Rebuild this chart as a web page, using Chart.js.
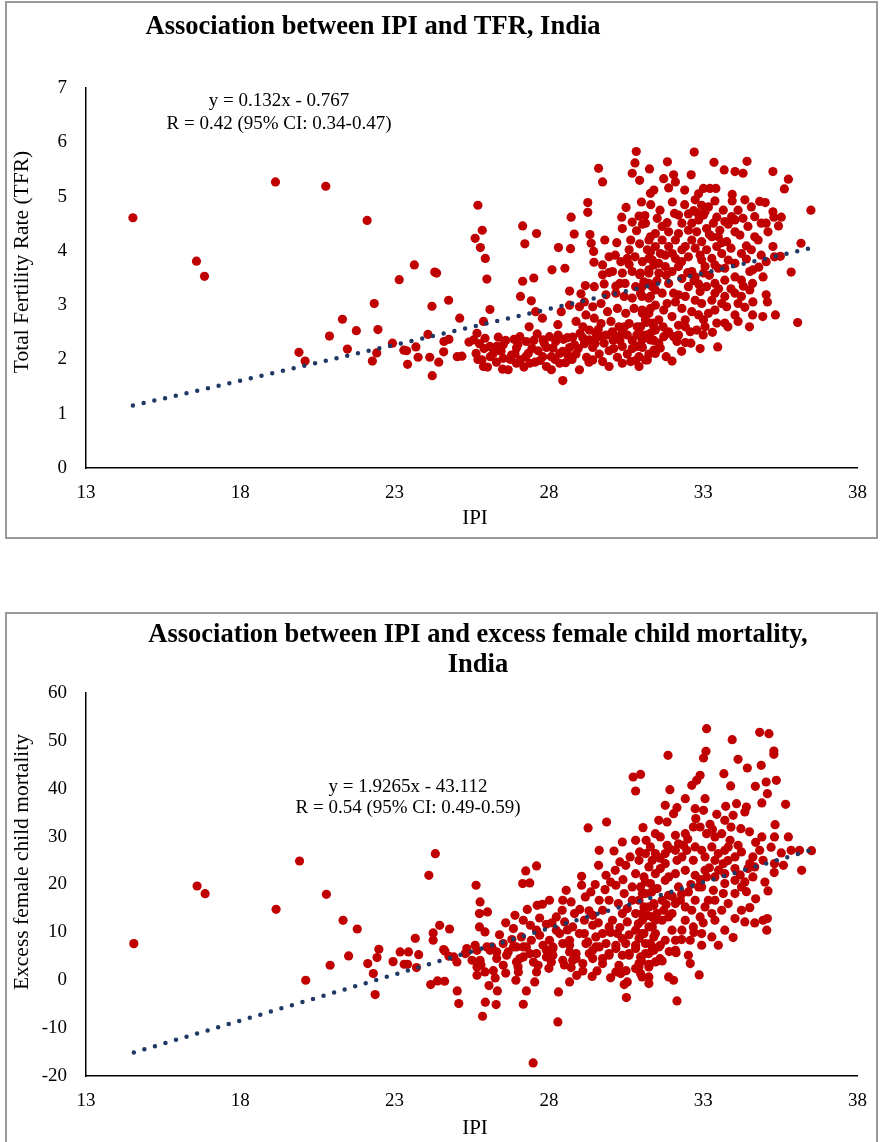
<!DOCTYPE html>
<html>
<head>
<meta charset="utf-8">
<title>IPI associations, India</title>
<script src="https://cdn.jsdelivr.net/npm/chart.js@4.4.1/dist/chart.umd.min.js"></script>
<style>
  body { margin: 0; background: #fff; width: 881px; height: 1142px; position: relative; overflow: hidden; }
  .frame { position: absolute; left: 5px; width: 873px; border: 2px solid #9a9a9a; box-sizing: border-box; }
  .holder { position: absolute; left: 0; width: 881px; }
</style>
</head>
<body>
<div class="frame" style="top:1px;height:538px"></div>
<div class="frame" style="top:612px;height:540px"></div>
<div class="holder" style="top:0;height:540px"><canvas id="chart-tfr"></canvas></div>
<div class="holder" style="top:605px;height:537px"><canvas id="chart-efcm"></canvas></div>
<script>
// Axis ticks
const ipiTicks = [13, 18, 23, 28, 33, 38];
const tfrTicks = [0, 1, 2, 3, 4, 5, 6, 7];
const efcmTicks = [-20, -10, 0, 10, 20, 30, 40, 50, 60];

// Fitted lines shown on the charts
const tfrSlope = 0.132, tfrIntercept = -0.767;
const efcmSlope = 1.9265, efcmIntercept = -43.112;

// Districts: IPI vs total fertility rate
const tfrIpi = [
  14.52,16.58,16.84,19.14,20.77,22.11,23.64,23.15,24.30,24.36,
  22.34,24.21,24.75,21.31,21.76,22.46,20.89,19.90,20.10,21.47,
  22.42,22.28,22.93,23.30,23.39,23.69,23.76,23.42,24.14,24.43,
  24.22,24.08,24.60,24.76,24.59,25.03,30.83,30.79,30.70,30.94,
  31.26,29.61,29.74,31.29,29.26,29.26,25.70,25.84,25.61,25.78,
  25.94,25.99,27.15,27.60,27.22,28.72,28.82,28.70,28.31,28.10,
  28.52,29.33,29.37,29.45,29.46,29.81,30.36,30.38,30.70,30.92,
  31.11,31.03,30.84,30.65,30.60,30.94,31.24,31.29,27.15,27.51,
  27.08,27.43,28.67,29.18,29.47,29.04,26.09,25.11,25.88,27.57,
  27.79,28.40,28.29,27.36,28.67,25.41,28.45,29.74,29.95,30.15,
  30.33,30.54,30.79,31.03,31.24,31.40,30.06,30.38,30.70,30.94,
  31.24,29.74,29.79,30.17,30.47,30.81,31.08,31.35,29.85,30.17,
  30.44,30.70,30.97,31.24,29.42,29.69,29.90,30.22,30.49,30.76,
  31.03,31.29,29.20,29.47,29.69,30.01,30.27,30.60,30.86,31.15,
  31.40,28.88,29.10,29.31,29.52,28.99,29.15,25.56,25.75,25.93,
  25.64,25.83,26.01,26.20,26.36,26.31,26.52,26.50,26.87,26.95,
  27.08,27.19,27.33,27.51,27.62,27.65,27.72,27.92,28.02,28.08,
  28.22,28.35,28.47,28.54,28.67,28.77,28.88,29.01,29.15,29.22,
  29.42,29.55,29.63,29.74,29.95,30.08,30.22,30.38,30.54,30.70,
  30.81,30.92,31.03,31.24,31.40,25.18,25.88,26.68,26.95,27.38,
  27.92,28.08,28.35,28.99,29.42,29.95,30.65,27.06,27.27,27.81,
  28.13,28.61,28.83,29.31,29.79,30.22,30.54,31.13,26.09,25.67,
  26.52,26.79,30.92,31.29,30.38,30.06,29.74,31.40,31.13,30.38,
  36.49,36.17,35.85,36.06,35.34,34.93,34.60,33.47,31.99,35.76,
  35.63,35.26,34.42,32.71,31.84,33.35,33.68,34.03,34.29,31.72,
  32.04,32.10,32.61,32.40,31.88,31.40,32.85,33.01,33.22,33.41,
  33.38,33.94,33.94,34.56,34.83,35.01,35.26,35.53,35.44,35.29,
  35.10,34.88,35.04,34.67,33.65,34.13,34.03,33.81,33.44,33.06,
  32.69,32.52,32.20,32.07,31.83,31.51,31.13,34.40,34.88,35.26,
  35.31,35.04,34.51,34.61,34.94,34.24,34.03,33.70,33.38,33.11,
  32.85,32.52,32.20,32.04,31.88,34.03,34.24,34.51,34.13,34.35,
  34.61,35.04,35.08,33.76,33.60,33.38,33.17,33.01,32.85,32.63,
  32.31,32.10,31.83,31.72,31.45,31.29,31.02,34.03,34.13,33.70,
  33.44,33.06,32.79,32.58,32.42,32.20,31.88,31.72,31.56,31.29,
  31.02,30.86,30.92,32.15,32.42,31.83,31.61,31.45,31.13,31.02,
  31.24,30.97,31.56,31.45,32.74,32.95,33.17,32.85,33.11,32.79,
  33.28,32.95,33.44,33.11,32.74,33.60,33.28,32.95,32.52,32.31,
  32.10,31.88,31.67,31.45,31.61,31.35,31.77,32.20,32.63,33.01,
  33.49,33.81,33.76,34.03,33.54,32.52,32.31,31.19,32.63,33.01,
  33.33,33.49,32.63,32.42,32.90,33.38,33.70,33.06,32.74,32.31,
  31.99,31.56,31.24,31.77,32.10,31.45,31.29,31.88,31.67,32.20,
  33.70,33.92,34.29,34.45,34.19,34.24,34.03,34.56,34.78,34.67,
  34.35,31.24,31.56,31.99,32.42,32.74,32.42,31.67,31.35,30.97,
  32.04,31.45,31.19,31.02,33.28,32.95,33.38,33.70,
  25.70,25.90,26.10,26.30,26.45,26.60,26.75,26.90,27.00,27.25,
  27.45,27.55,27.80,27.85,28.20,28.30,28.45,28.60,28.75,28.95,
  29.10,29.30,29.50,29.60,29.85,30.10,30.30,30.45,30.70,30.85,
  31.50,31.80,32.00,32.30,32.50,32.70,32.90,33.20,33.50,33.90,
  34.30,34.60,34.80,34.40,33.90,33.60,33.20,32.80,32.40,32.00,
  31.60,31.30,31.00,30.50,30.20,29.95,30.30,30.60,31.70,32.20,
  32.60,33.00,33.30,33.80,34.50,32.90,32.30,31.80,35.50
];
const tfrRate = [
  4.61,3.81,3.53,5.27,5.19,4.56,3.74,3.47,3.61,3.59,
  3.03,2.98,3.09,2.74,2.53,2.55,2.43,2.13,1.97,2.19,
  2.12,1.97,2.30,2.17,2.16,2.23,2.04,1.91,2.04,1.95,
  1.70,2.46,2.33,2.37,2.14,2.05,5.83,5.62,5.43,5.30,
  5.51,5.52,5.27,5.06,4.89,4.71,4.84,4.38,4.23,4.06,
  3.86,3.48,4.46,4.32,4.13,4.62,4.31,4.04,4.06,3.65,
  3.68,4.30,4.14,3.99,3.79,4.20,4.62,4.41,4.53,4.64,
  4.65,4.49,4.37,4.20,4.02,4.13,4.20,3.98,3.44,3.50,
  3.16,3.08,3.26,3.36,3.34,3.21,2.92,2.76,2.70,2.88,
  2.76,2.88,2.64,2.60,3.00,2.32,1.61,3.74,3.89,3.92,
  3.80,3.86,3.89,3.80,3.86,3.74,3.62,3.59,3.62,3.56,
  3.59,3.56,3.39,3.35,3.40,3.34,3.43,3.34,3.19,3.22,
  3.16,3.13,3.22,3.13,2.97,3.03,2.88,2.94,2.85,2.94,
  2.85,2.94,2.82,2.76,2.66,2.70,2.60,2.66,2.60,2.68,
  2.60,2.70,2.60,2.54,2.48,2.97,3.06,2.36,2.29,2.39,
  2.11,1.99,1.86,2.11,2.41,2.24,2.02,1.82,2.37,2.21,
  1.99,1.86,2.11,2.35,2.47,2.16,1.98,2.22,2.42,2.05,
  2.33,2.11,2.37,1.94,2.22,2.41,2.10,2.48,2.29,2.04,
  2.22,2.41,2.10,1.96,2.16,2.36,2.04,2.24,2.10,2.35,
  1.98,1.87,2.22,2.10,2.35,2.06,1.87,1.81,1.93,1.93,
  1.87,1.81,1.93,1.81,1.99,1.87,1.96,2.42,2.33,2.36,
  2.21,2.08,2.27,2.36,2.30,2.42,2.45,2.45,2.24,2.48,
  2.27,2.08,2.48,2.48,2.48,2.51,2.42,2.17,1.99,1.93,
  4.75,4.14,3.61,2.68,2.82,2.79,2.82,2.23,1.97,5.32,
  5.14,5.46,5.65,5.82,5.64,5.63,5.49,5.46,5.43,5.33,
  5.40,5.27,5.40,5.12,5.16,5.12,5.05,5.15,5.15,5.15,
  4.92,5.04,4.92,4.81,4.91,4.89,4.72,4.62,4.46,4.62,
  4.35,4.51,4.51,4.26,4.75,4.75,4.57,4.49,4.62,4.72,
  4.74,4.68,4.66,4.69,4.52,4.60,4.51,4.09,3.92,4.08,
  3.89,3.80,3.62,3.65,3.52,3.46,3.52,3.46,3.40,3.34,
  3.39,3.34,3.19,3.22,3.40,3.22,3.16,3.28,3.03,2.96,
  3.06,3.19,3.06,2.97,3.03,2.91,2.85,2.73,2.82,2.88,
  2.94,3.06,3.03,2.91,3.00,3.16,3.16,2.82,2.70,2.67,
  2.67,2.60,2.54,2.51,2.60,2.63,2.51,2.42,2.30,2.36,
  2.36,2.24,2.05,2.33,2.31,2.48,2.21,2.54,2.73,2.91,
  3.40,3.59,3.59,3.28,4.94,4.84,4.81,4.57,4.41,4.35,
  4.26,4.17,4.08,4.02,4.05,3.95,3.86,3.83,3.89,4.02,
  4.20,4.08,4.20,4.32,3.95,3.83,3.71,3.71,3.62,3.59,
  3.68,3.83,4.17,4.35,4.38,4.38,4.51,4.02,4.51,4.66,
  4.51,4.26,4.20,4.08,3.92,3.74,3.68,3.71,3.52,3.49,
  3.62,3.77,3.65,3.92,3.86,4.08,4.26,4.35,4.45,4.32,
  4.54,4.63,4.60,4.45,4.29,3.95,3.77,4.02,4.20,4.63,
  4.94,2.85,2.73,2.79,2.73,3.09,3.16,3.22,2.67,2.60,
  2.42,2.11,1.99,3.34,3.09,3.03,3.22,3.16,
  2.00,2.20,2.05,1.95,2.15,2.35,2.00,2.10,2.28,2.05,
  2.20,1.95,2.05,2.30,2.00,2.45,2.15,2.40,2.00,2.20,
  2.40,1.95,2.30,2.55,2.45,2.20,2.35,2.60,2.20,2.45,
  3.45,3.55,3.95,3.80,3.60,3.45,3.25,3.55,3.30,3.30,
  3.35,3.40,3.70,3.85,4.05,4.15,4.30,4.70,4.85,4.90,
  4.75,4.85,4.90,4.80,4.15,3.60,3.40,3.75,2.60,2.45,
  2.30,2.45,2.50,2.60,2.60,2.20,2.15,2.05,3.90
];

// Districts: IPI vs excess female child mortality
const efcmIpi = [
  14.55,16.60,16.86,19.16,19.92,20.79,20.12,20.91,21.33,21.79,
  21.51,22.13,22.43,22.49,22.31,22.37,22.95,23.18,23.45,23.31,
  23.42,23.78,23.67,23.71,24.11,24.32,24.25,24.25,24.46,24.78,
  24.63,24.76,24.17,24.39,24.62,25.03,25.08,30.73,30.97,30.81,
  29.87,29.27,31.05,30.81,31.15,30.38,29.63,30.11,30.63,30.94,
  31.29,30.30,30.49,29.61,30.15,29.85,30.81,31.13,29.06,29.06,
  29.36,29.82,30.17,30.44,30.70,31.03,31.33,28.56,28.72,29.18,
  28.45,28.02,27.79,27.62,27.60,27.25,27.38,27.15,25.64,25.77,
  25.75,26.01,25.75,25.93,26.90,27.17,27.40,27.60,27.92,28.24,
  28.43,28.83,29.15,29.42,29.74,29.95,30.25,30.54,30.81,31.08,
  31.35,29.42,29.74,29.95,30.22,30.54,30.81,31.08,31.35,26.85,
  27.11,27.43,27.70,28.02,28.35,28.67,28.99,29.26,29.52,29.85,
  30.17,30.49,30.81,31.13,31.40,26.52,26.68,26.95,26.15,26.31,
  25.99,25.34,25.61,25.29,24.59,24.92,29.63,30.38,31.03,30.70,
  30.06,29.52,30.38,30.92,31.24,30.60,29.95,29.31,28.67,28.13,
  27.60,27.17,27.92,28.88,29.74,27.27,27.81,28.45,29.15,28.77,
  28.24,28.51,31.40,31.40,27.49,28.29,25.85,25.94,26.29,27.17,
  26.33,26.06,27.27,28.31,28.67,27.54,26.93,30.51,30.44,30.54,
  30.33,31.24,30.97,29.56,29.10,28.72,28.08,27.60,27.01,26.26,
  25.67,25.93,26.52,25.67,25.34,25.77,26.09,26.63,27.06,27.38,
  27.65,27.92,28.45,28.88,29.10,29.42,29.74,29.95,30.27,30.60,
  30.92,31.24,25.51,25.02,26.85,27.17,28.13,28.67,29.20,29.63,
  30.17,30.81,31.35,30.38,30.97,29.42,28.77,28.13,26.95,26.31,
  25.67,31.24,30.81,30.17,33.11,34.83,35.13,35.29,35.29,33.94,
  33.09,33.01,31.86,34.13,34.43,34.88,33.67,32.90,32.79,32.63,
  35.04,35.37,35.08,34.69,33.89,31.92,35.67,34.90,34.40,34.35,
  33.73,34.08,33.97,33.70,33.44,33.06,32.42,32.74,33.01,32.15,
  32.04,31.77,31.56,31.83,32.76,32.90,33.22,34.22,35.33,35.31,
  34.90,35.76,31.61,32.10,32.36,32.10,31.83,31.45,31.13,32.74,
  33.11,33.38,33.28,33.49,33.06,32.68,32.31,31.77,31.35,33.87,
  34.13,34.03,33.70,33.65,34.61,34.51,34.94,35.31,35.53,35.85,
  36.12,36.51,36.19,35.10,34.61,34.35,34.45,34.03,33.70,33.38,
  33.06,32.74,32.42,32.10,31.77,31.45,31.08,31.13,31.51,31.88,
  32.20,32.52,32.95,33.33,33.65,34.03,34.24,33.81,33.38,33.06,
  32.74,32.42,32.10,31.72,31.40,31.02,34.51,34.24,34.03,34.35,
  34.67,34.94,35.08,35.06,33.97,33.49,33.38,33.70,32.95,32.68,
  32.42,31.99,31.67,31.45,31.24,32.95,32.52,32.10,31.56,31.13,
  32.15,32.87,31.88,32.04,32.58,32.12,31.67,31.45,31.24,31.02,
  30.92,31.35,31.61,30.92,31.24,30.97,31.29,31.67,31.99,32.31,
  32.58,33.28,33.60,33.28,32.90,32.63,32.26,31.88,31.45,31.02,
  31.29,31.77,32.10,30.92,31.24,33.70,33.17,32.85,31.88,31.61,
  32.15,32.47,32.95,33.38,33.11,34.24,33.81,33.60,32.42,32.68,
  31.45,31.77,34.03,34.67,34.83,
  29.30,29.60,30.00,30.30,30.60,30.90,31.20,31.50,31.80,32.00,
  32.30,32.60,32.90,33.20,33.50,33.80,34.20,34.40,34.70,35.00,
  35.30,35.60,33.00,32.70,32.30,31.90,31.60,31.00,30.50,30.00,
  29.40,28.90,28.50,28.00,27.50,27.00,26.60,26.20,25.80,29.00,
  28.60,28.10,27.70,27.30,26.60,26.40,26.80,30.40,30.00,29.50,
  31.60,31.90,32.20,32.50,33.30,33.90,34.50,34.70,35.20
];
const efcmExcess = [
  7.65,19.69,18.09,14.82,24.91,17.95,0.00,3.13,12.52,10.71,
  5.08,3.48,4.73,6.47,1.39,-3.00,3.89,5.91,5.91,3.34,
  3.34,5.35,8.76,2.64,21.92,26.44,9.88,8.35,11.48,10.71,
  6.12,5.01,-0.91,-0.14,-0.21,-2.23,-4.88,42.45,43.00,39.53,
  33.06,31.81,31.88,29.23,29.23,28.88,27.14,27.00,25.75,26.80,
  27.84,24.71,24.01,24.01,22.97,21.93,22.27,20.53,21.71,19.84,
  18.45,18.93,19.84,18.10,19.49,18.10,18.45,18.79,16.36,17.40,
  16.71,16.71,15.87,15.66,23.87,22.83,20.32,20.19,19.84,16.36,
  13.92,14.27,11.14,10.10,13.57,12.53,11.49,10.45,11.70,13.23,
  14.62,13.92,12.53,13.57,14.62,16.71,16.01,14.97,13.92,15.31,
  13.23,11.49,9.75,11.14,9.75,12.18,10.45,9.75,11.14,10.79,
  9.05,8.36,9.40,8.36,9.75,8.36,9.75,8.01,6.96,7.66,
  6.62,7.66,6.62,7.66,6.27,7.66,5.92,6.96,6.96,5.92,
  6.96,6.62,7.31,5.57,6.41,4.88,16.71,13.92,12.53,16.71,
  12.53,9.05,8.71,8.71,5.57,5.22,5.22,5.57,5.92,6.62,
  5.57,4.88,4.88,4.53,4.53,6.96,7.31,7.66,9.75,11.14,
  10.45,12.18,16.01,9.05,-17.26,-8.70,-7.52,-4.59,-5.08,-5.01,
  -2.23,-1.11,-2.23,-2.44,-0.35,-0.35,0.00,-3.62,-0.91,-0.35,
  1.39,-0.70,1.39,1.95,1.95,2.64,3.83,1.74,1.74,0.49,
  1.04,1.74,3.13,2.78,5.91,4.18,6.26,5.22,4.52,5.57,
  3.13,6.26,4.18,5.57,3.48,6.26,3.48,5.57,3.13,5.57,
  3.48,0.70,4.18,3.83,6.96,6.96,6.96,7.31,7.66,6.96,
  7.31,7.31,6.96,5.22,4.87,4.52,4.18,5.22,3.83,4.52,
  6.26,2.78,2.43,1.74,52.54,51.78,51.50,47.88,47.19,50.25,
  47.81,46.42,46.98,46.14,44.33,44.89,43.15,42.80,41.76,40.71,
  41.41,41.76,38.97,40.51,40.58,39.81,36.75,37.03,36.19,35.15,
  36.33,36.89,34.45,33.41,34.66,37.93,37.93,35.84,35.50,36.05,
  34.80,36.54,33.41,33.06,33.76,32.01,32.57,31.67,32.50,29.93,
  29.93,29.93,29.93,30.28,28.19,27.14,28.19,26.45,26.45,27.84,
  30.62,29.93,27.84,26.45,25.75,25.06,25.75,24.36,25.06,29.23,
  28.19,25.75,27.14,24.36,25.75,24.36,25.06,24.36,26.59,27.14,
  27.14,27.07,22.97,18.65,21.58,20.53,23.32,23.32,22.27,21.58,
  22.97,21.93,22.97,22.27,20.88,22.27,21.58,18.10,19.14,17.75,
  19.49,18.45,19.49,18.79,18.10,18.10,19.49,16.01,16.71,15.31,
  16.71,15.31,16.01,14.62,15.66,13.92,15.17,14.62,12.88,12.18,
  11.97,12.53,12.88,10.45,8.91,7.31,12.53,10.45,9.75,11.14,
  12.53,10.45,12.53,9.75,11.14,7.31,5.22,6.27,6.96,5.57,
  -4.32,1.11,0.70,0.00,3.48,5.77,4.04,3.83,3.34,0.70,
  2.78,6.26,7.31,25.06,23.67,19.49,20.19,16.71,13.92,10.45,
  8.36,9.05,14.62,13.92,13.23,14.62,16.71,13.23,12.53,9.75,
  7.66,8.36,8.36,16.71,15.31,20.19,16.71,19.49,21.58,23.32,
  25.06,27.14,27.14,25.06,21.58,26.80,27.84,30.62,30.62,32.01,
  30.62,26.45,20.88,23.67,27.14,
  14.5,12.0,10.0,11.0,9.5,11.8,13.5,14.0,15.8,17.5,
  18.0,20.0,21.0,23.5,23.0,25.0,22.0,18.5,17.0,20.5,
  22.5,24.0,12.0,10.0,8.5,6.0,4.5,4.0,2.0,0.5,
  0.8,1.0,3.2,2.5,3.8,2.8,1.5,2.0,3.2,14.8,
  10.5,12.0,13.0,14.8,12.0,9.5,8.5,21.0,20.5,20.0,
  25.5,27.5,28.5,29.5,31.5,32.0,31.0,28.8,27.8
];

const serif = "'Liberation Serif', 'Times New Roman', serif";
Chart.defaults.font.family = serif;
Chart.defaults.color = '#000';

// draws titles, axis titles and the regression note at set spots
const noteText = {
  id: 'noteText',
  afterDraw(chart, args, opts) {
    const ctx = chart.ctx;
    opts.items.forEach(t => {
      ctx.save();
      ctx.font = t.font;
      ctx.fillStyle = '#000';
      ctx.textAlign = 'center';
      ctx.textBaseline = 'middle';
      ctx.translate(t.x, t.y);
      if (t.rotate) ctx.rotate(t.rotate);
      ctx.fillText(t.text, 0, 0);
      ctx.restore();
    });
  }
};

function makeChart(canvasId, ipi, vals, slope, intercept, yTicks, xHeight, padTop, texts) {
  const points = ipi.map((x, i) => ({x: x, y: vals[i]}));
  const lo = Math.min(...ipi), hi = Math.max(...ipi);
  const fit = [lo, hi].map(x => ({x: x, y: slope * x + intercept}));

  return new Chart(document.getElementById(canvasId), {
    type: 'scatter',
    data: {
      datasets: [
        {
          label: 'Linear fit',
          data: fit,
          showLine: true,
          order: 0,
          borderColor: '#1f3864',
          borderWidth: 4.5,
          borderDash: [0, 11],
          borderCapStyle: 'round',
          pointRadius: 0
        },
        {
          label: 'Districts',
          data: points,
          order: 1,
          backgroundColor: '#c00000',
          borderWidth: 0,
          pointRadius: 4.6
        }
      ]
    },
    plugins: [noteText],
    options: {
      responsive: true,
      maintainAspectRatio: false,
      animation: false,
      layout: {padding: {top: padTop, right: 17, left: 0, bottom: 0}},
      scales: {
        x: {
          type: 'linear',
          min: ipiTicks[0],
          max: ipiTicks[ipiTicks.length - 1],
          afterBuildTicks: s => { s.ticks = ipiTicks.map(v => ({value: v})); },
          afterFit: s => { s.height = xHeight; },
          grid: {display: false, drawTicks: false},
          border: {display: true, color: '#000', width: 1.5},
          ticks: {padding: 14, font: {size: 19}, maxRotation: 0}
        },
        y: {
          min: yTicks[0],
          max: yTicks[yTicks.length - 1],
          afterBuildTicks: s => { s.ticks = yTicks.map(v => ({value: v})); },
          afterFit: s => { s.width = 86; },
          grid: {display: false, drawTicks: false},
          border: {display: true, color: '#000', width: 1.5},
          ticks: {padding: 19, font: {size: 19}}
        }
      },
      plugins: {
        legend: {display: false},
        tooltip: {enabled: false},
        noteText: {items: texts}
      }
    }
  });
}

makeChart('chart-tfr', tfrIpi, tfrRate, tfrSlope, tfrIntercept, tfrTicks, 72, 88, [
  {text: 'Association between IPI and TFR, India', x: 373, y: 27, font: 'bold 26.5px ' + serif},
  {text: 'y = 0.132x - 0.767', x: 279, y: 101, font: '19px ' + serif},
  {text: 'R = 0.42 (95% CI: 0.34-0.47)', x: 279, y: 124, font: '19px ' + serif},
  {text: 'Total Fertility Rate (TFR)', x: 22, y: 262, rotate: -Math.PI / 2, font: '21.5px ' + serif},
  {text: 'IPI', x: 475, y: 518, font: '21px ' + serif}
]);

makeChart('chart-efcm', efcmIpi, efcmExcess, efcmSlope, efcmIntercept, efcmTicks, 66, 88, [
  {text: 'Association between IPI and excess female child mortality,', x: 478, y: 30, font: 'bold 26.5px ' + serif},
  {text: 'India', x: 478, y: 60, font: 'bold 26.5px ' + serif},
  {text: 'y = 1.9265x - 43.112', x: 408, y: 182, font: '19px ' + serif},
  {text: 'R = 0.54 (95% CI: 0.49-0.59)', x: 408, y: 203, font: '19px ' + serif},
  {text: 'Excess female child mortality', x: 22, y: 257, rotate: -Math.PI / 2, font: '21.5px ' + serif},
  {text: 'IPI', x: 475, y: 523, font: '21px ' + serif}
]);
</script>
</body>
</html>
